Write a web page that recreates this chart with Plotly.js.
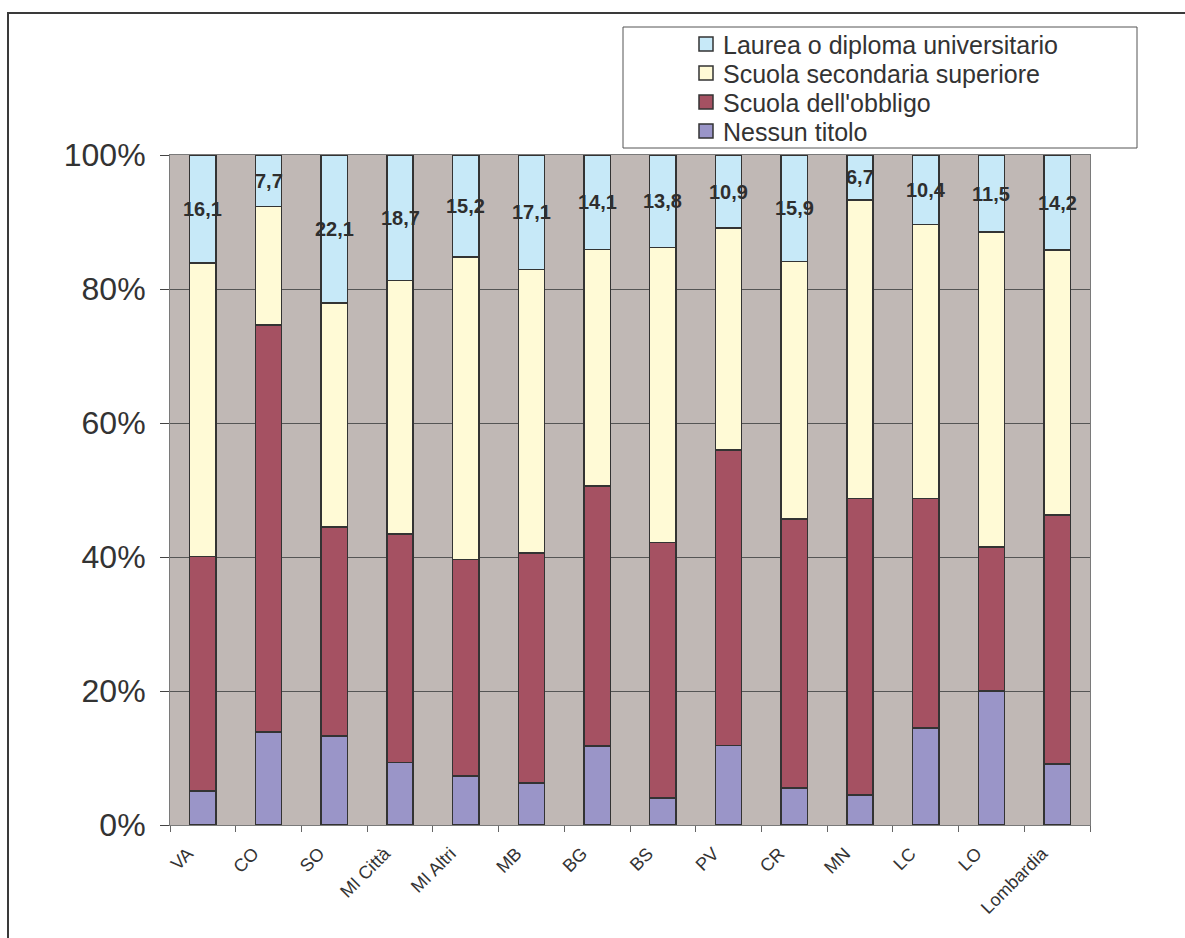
<!DOCTYPE html>
<html>
<head>
<meta charset="utf-8">
<script src="https://cdn.plot.ly/plotly-3.0.1.min.js"></script>
<style>
  html, body { margin: 0; padding: 0; background: #ffffff; }
  #wrap { position: relative; width: 1185px; height: 938px; }
  #chart { position: absolute; left: 0; top: 0; width: 1185px; height: 938px; }
  #frame { position: absolute; left: 7px; top: 12px; width: 1185px; height: 940px;
           border-left: 2px solid #3a3a3a; border-top: 2px solid #3a3a3a; pointer-events: none; }
</style>
</head>
<body>
<div id="wrap">
  <div id="chart"></div>
  <div id="frame"></div>
</div>
<script>
// Categories (provinces)
const categories = ["VA", "CO", "SO", "MI Città", "MI Altri", "MB", "BG", "BS", "PV", "CR", "MN", "LC", "LO", "Lombardia"];

// Series values (% of population by education level)
const nessunTitolo      = [5.1, 13.9, 13.3,  9.3,  7.3,  6.3, 11.8,  4.0, 11.9,  5.5,  4.5, 14.5, 20.0,  9.1];
const scuolaObbligo     = [35.0, 60.7, 31.2, 34.1, 32.3, 34.3, 38.8, 38.2, 44.1, 40.2, 44.2, 34.2, 21.5, 37.2];
const scuolaSuperiore   = [43.8, 17.7, 33.4, 37.9, 45.2, 42.3, 35.3, 44.0, 33.1, 38.4, 44.6, 40.9, 47.0, 39.5];
const laurea            = [16.1,  7.7, 22.1, 18.7, 15.2, 17.1, 14.1, 13.8, 10.9, 15.9,  6.7, 10.4, 11.5, 14.2];

const seriesNames = ["Nessun titolo", "Scuola dell'obbligo", "Scuola secondaria superiore", "Laurea o diploma universitario"];
const seriesColors = ['#9A95C8', '#A55162', '#FFFAD6', '#C7E9F8'];
const yTickVals = [0, 20, 40, 60, 80, 100];
const yTickText = yTickVals.map(v => v + '%');

const FONT = '"Liberation Sans", Arial, sans-serif';
const lineStyle = { color: '#333333', width: 1.5 };

// plot area geometry (px) used to place the hand-drawn legend box
const M = { l: 170, r: 95, t: 155, b: 113 };
const W = 1185, H = 938;
const PW = W - M.l - M.r, PH = H - M.t - M.b;
const px2x = p => (p - M.l) / PW;
const px2y = p => (H - M.b - p) / PH;

const valuesList = [nessunTitolo, scuolaObbligo, scuolaSuperiore, laurea];
const traces = valuesList.map((vals, k) => ({
  type: 'bar',
  name: seriesNames[k],
  x: categories,
  y: vals,
  marker: { color: seriesColors[k], line: lineStyle },
  hoverinfo: 'x+y+name'
}));

// Labels for the top segment (laurea), centred in that segment
const annotations = categories.map((c, i) => {
  const base = nessunTitolo[i] + scuolaObbligo[i] + scuolaSuperiore[i];
  return {
    x: c,
    y: base + laurea[i] / 2,
    xref: 'x', yref: 'y',
    text: laurea[i].toFixed(1).replace('.', ','),
    showarrow: false,
    font: { family: FONT, size: 20, color: '#2e2e2e', weight: 'bold' }
  };
});

// Legend (top-down: reversed series order)
const shapes = [{
  type: 'rect', xref: 'paper', yref: 'paper',
  x0: px2x(623), x1: px2x(1137), y0: px2y(148), y1: px2y(27),
  line: { color: '#555555', width: 1 },
  fillcolor: 'rgba(0,0,0,0)'
}];
const legendRows = [44, 73, 102, 131];
for (let r = 0; r < 4; r++) {
  const k = 3 - r;
  const cy = legendRows[r];
  shapes.push({
    type: 'rect', xref: 'paper', yref: 'paper',
    x0: px2x(699), x1: px2x(713), y0: px2y(cy + 7), y1: px2y(cy - 7),
    line: { color: '#333333', width: 1.5 },
    fillcolor: seriesColors[k]
  });
  annotations.push({
    xref: 'paper', yref: 'paper',
    x: px2x(721), y: px2y(cy + 1),
    xanchor: 'left', yanchor: 'middle',
    text: seriesNames[k],
    showarrow: false,
    font: { family: FONT, size: 25, color: '#333333' }
  });
}

const layout = {
  width: W,
  height: H,
  margin: { l: M.l, r: M.r, t: M.t, b: M.b, pad: 0 },
  paper_bgcolor: '#ffffff',
  plot_bgcolor: '#C0B8B5',
  barmode: 'stack',
  bargap: 0.6,
  showlegend: false,
  font: { family: FONT, color: '#333333' },
  xaxis: {
    type: 'category',
    tickangle: -45,
    tickfont: { family: FONT, size: 18, color: '#333333' },
    ticks: 'outside',
    tickson: 'boundaries',
    ticklen: 6,
    tickcolor: '#666666',
    ticklabelshift: -15,
    ticklabelstandoff: 10,
    showgrid: false,
    showline: true,
    linecolor: '#7a7a7a',
    linewidth: 1,
    mirror: true,
    zeroline: false
  },
  yaxis: {
    range: [0, 100],
    tickmode: 'array',
    tickvals: yTickVals,
    ticktext: yTickText,
    tickfont: { family: FONT, size: 32, color: '#333333' },
    ticks: 'outside',
    ticklen: 9,
    tickcolor: '#444444',
    ticklabelstandoff: 8,
    showgrid: true,
    gridcolor: '#555555',
    gridwidth: 1,
    showline: true,
    linecolor: '#7a7a7a',
    linewidth: 1,
    mirror: true,
    zeroline: false
  },
  shapes: shapes,
  annotations: annotations
};

Plotly.newPlot('chart', traces, layout, { displayModeBar: false, staticPlot: true });
</script>
</body>
</html>
